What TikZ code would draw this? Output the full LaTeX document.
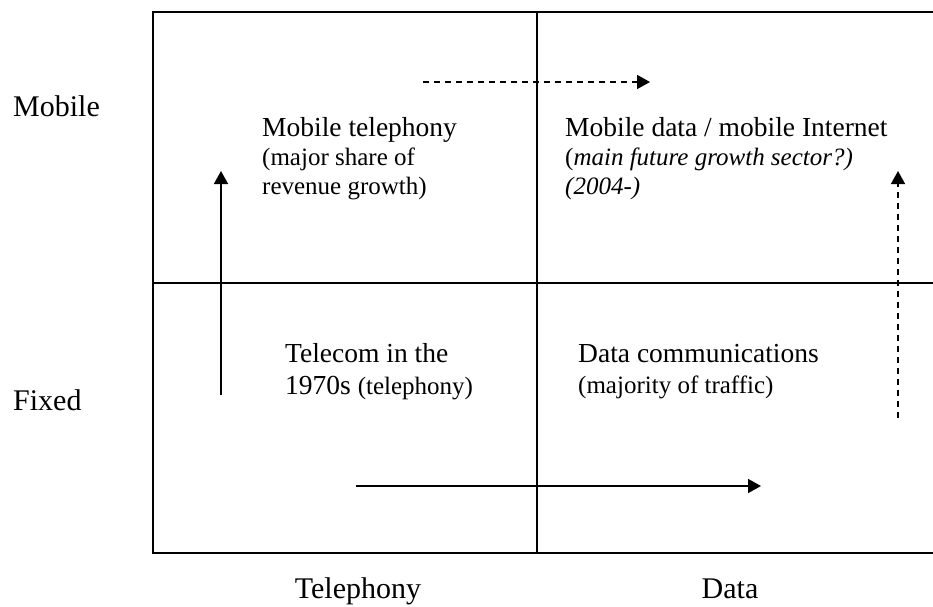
\documentclass[tikz,border=0pt]{standalone}
\usepackage{fontspec}
\setmainfont{Liberation Serif}
\usetikzlibrary{arrows.meta}

\begin{document}
\begin{tikzpicture}[
        x=1pt, y=-1pt,
        frame/.style={line width=1.6pt},
        arrow/.style={line width=1.6pt, -{Triangle[length=13pt,width=14pt]}},
        dasharrow/.style={arrow, dash pattern=on 6pt off 5pt},
        axis/.style={anchor=base west, inner sep=0pt, font=\fontsize{30}{30}\selectfont},
        main/.style={anchor=base west, inner sep=0pt, font=\fontsize{27.5}{29}\selectfont},
        note/.style={anchor=base west, inner sep=0pt, font=\fontsize{25}{29}\selectfont}
        ]
        \useasboundingbox (0,0) rectangle (933,606);
        % frame of the four quadrants
        \coordinate (nw) at (153,12);
        \coordinate (ne) at (933,12);
        \coordinate (sw) at (153,553);
        \coordinate (se) at (933,553);
        \coordinate (w) at (153,283);
        \coordinate (e) at (933,283);
        \coordinate (n) at (537,12);
        \coordinate (s) at (537,553);
        \draw[frame] (ne) -- (nw) -- (sw) -- (se);
        \draw[frame] (w) -- (e);
        \draw[frame] (n) -- (s);
        % axis labels
        \node[axis] (mobile) at (13,116) {Mobile};
        \node[axis] (fixed) at (13,410) {Fixed};
        \node[axis, anchor=base] (telephony) at (358,598) {Telephony};
        \node[axis, anchor=base] (data) at (730,598) {Data};
        % quadrant texts
        \node[main] (mt1) at (262,136) {Mobile telephony};
        \node[note] (mt2) at (262,165) {(major share of};
        \node[note] (mt3) at (262,194) {revenue growth)};
        \node[main] (md1) at (565,136) {Mobile data / mobile Internet};
        \node[note] (md2) at (565,165) {(\textit{main future growth sector?)}};
        \node[note] (md3) at (565,194) {\textit{(2004-)}};
        \node[main] (tc1) at (285,362) {Telecom in the};
        \node[main] (tc2) at (285,394) {1970s {\fontsize{25}{29}\selectfont(telephony)}};
        \node[main] (dc1) at (578,362) {Data communications};
        \node[note] (dc2) at (578,393) {(majority of traffic)};
        % arrows
        \coordinate (up0) at (221,395);
        \coordinate (up1) at (221,171);
        \coordinate (top0) at (423,82);
        \coordinate (top1) at (650,82);
        \coordinate (right0) at (898,418);
        \coordinate (right1) at (898,171);
        \coordinate (bot0) at (356,486);
        \coordinate (bot1) at (761,486);
        \draw[arrow] (up0) -- (up1);
        \draw[dasharrow] (top0) -- (top1);
        \draw[dasharrow] (right0) -- (right1);
        \draw[arrow] (bot0) -- (bot1);
\end{tikzpicture}
\end{document}
